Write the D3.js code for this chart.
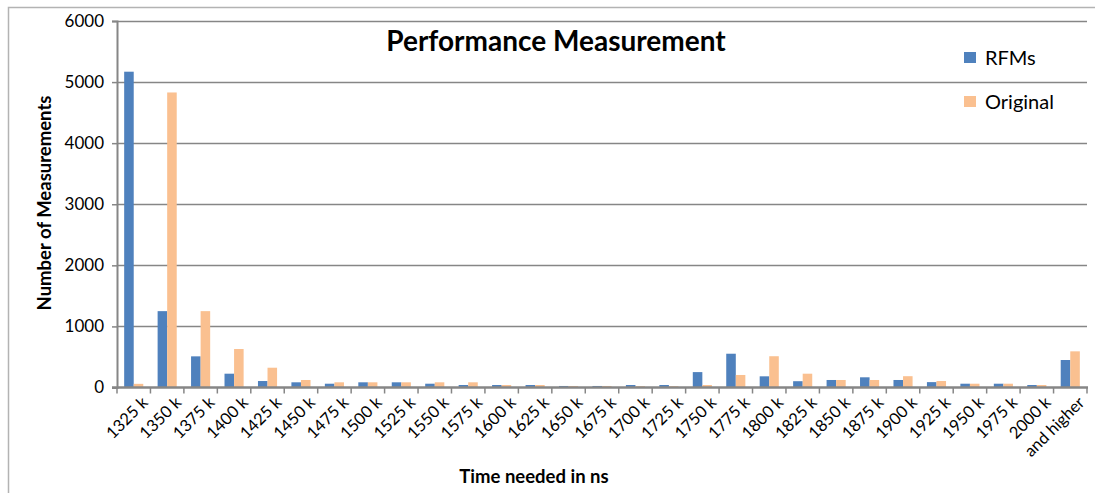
<!DOCTYPE html>
<html>
<head>
<meta charset="utf-8">
<script src="https://cdn.jsdelivr.net/npm/d3@7"></script>
<style>
  body { margin: 0; background: #fff; }
  svg { display: block; font-family: Lato, 'Open Sans', sans-serif; }
</style>
</head>
<body>
<div id="chart"></div>
<script>
const categories = ['1325 k', '1350 k', '1375 k', '1400 k', '1425 k', '1450 k', '1475 k', '1500 k',
  '1525 k', '1550 k', '1575 k', '1600 k', '1625 k', '1650 k', '1675 k', '1700 k', '1725 k',
  '1750 k', '1775 k', '1800 k', '1825 k', '1850 k', '1875 k', '1900 k', '1925 k', '1950 k',
  '1975 k', '2000 k', 'and higher']
const rfms = [5170, 1250, 510, 226, 106, 85, 62, 85, 85, 62, 41, 41, 41, 25, 25, 41, 41,
  252, 553, 183, 103, 123, 167, 123, 88, 62, 62, 41, 450]
const original = [60, 4830, 1250, 630, 324, 123, 85, 85, 85, 85, 85, 41, 41, 25, 25, 22, 22,
  41, 205, 512, 226, 123, 123, 185, 106, 62, 62, 41, 592]
const seriesNames = ['RFMs', 'Original']
const colors = ['#4f81bd', '#fac090']
const yTicks = [0, 1000, 2000, 3000, 4000, 5000, 6000]

const width = 1095
const height = 493
const axisColor = '#868686'

const svg = d3.select('#chart').append('svg')
  .attr('width', width)
  .attr('height', height)

// chart area border (runs off the picture at right and bottom)
svg.append('rect')
  .attr('x', 8.5).attr('y', 7.5)
  .attr('width', 1200).attr('height', 1000)
  .attr('fill', 'none')
  .attr('stroke', '#b3b3b3')
  .attr('stroke-width', 1.5)

const x0 = d3.scaleBand()
  .domain(categories)
  .range([117, 1087])

const x1 = d3.scaleBand()
  .domain(seriesNames)
  .range([0, x0.bandwidth()])
  .paddingOuter(0.75)

const y = d3.scaleLinear()
  .domain([0, 6000])
  .range([387.5, 21])

// gridlines
svg.append('g')
  .selectAll('line')
  .data(yTicks.filter(d => d > 0))
  .enter()
  .append('line')
  .attr('x1', 117).attr('x2', 1087)
  .attr('y1', d => Math.round(y(d)) + 0.5)
  .attr('y2', d => Math.round(y(d)) + 0.5)
  .attr('stroke', axisColor)
  .attr('stroke-width', 1.3)

// bars
const rows = categories.map((c, i) => ({ cat: c, values: [rfms[i], original[i]] }))

svg.append('g')
  .selectAll('g')
  .data(rows)
  .enter()
  .append('g')
  .attr('transform', d => `translate(${x0(d.cat)},0)`)
  .selectAll('rect')
  .data(d => d.values.map((v, j) => ({ name: seriesNames[j], value: v, color: colors[j] })))
  .enter()
  .append('rect')
  .attr('x', d => x1(d.name))
  .attr('width', x1.bandwidth())
  .attr('y', d => y(d.value))
  .attr('height', d => y(0) - y(d.value))
  .attr('fill', d => d.color)

// y axis
const yAxis = svg.append('g')
  .attr('transform', 'translate(117,0)')
  .call(d3.axisLeft(y).tickValues(yTicks).tickSize(5).tickPadding(8).tickFormat(d3.format('d')))
yAxis.select('.domain').attr('stroke', axisColor).attr('stroke-width', 2)
yAxis.selectAll('.tick line').attr('stroke', axisColor).attr('stroke-width', 1.5)
yAxis.selectAll('.tick text')
  .attr('fill', '#000')
  .style('font-size', '17px')
  .style('font-family', 'Lato, sans-serif')

// x axis line and tick marks between categories
const xg = svg.append('g')
xg.append('line')
  .attr('x1', 112).attr('x2', 1088)
  .attr('y1', y(0)).attr('y2', y(0))
  .attr('stroke', axisColor)
  .attr('stroke-width', 2.5)
xg.selectAll('line.tk')
  .data(categories.concat(['end']))
  .enter()
  .append('line')
  .attr('class', 'tk')
  .attr('x1', d => d === 'end' ? x0.range()[1] : x0(d))
  .attr('x2', d => d === 'end' ? x0.range()[1] : x0(d))
  .attr('y1', y(0)).attr('y2', y(0) + 6)
  .attr('stroke', axisColor)
  .attr('stroke-width', 1.5)

xg.selectAll('text')
  .data(categories)
  .enter()
  .append('text')
  .attr('transform', d => `translate(${x0(d) + x0.bandwidth() / 2 + 7},${y(0) + 8}) rotate(-45)`)
  .attr('text-anchor', 'end')
  .attr('dy', '0.7em')
  .style('font-size', '16.5px')
  .text(d => d)

// titles
svg.append('text')
  .attr('x', 556).attr('y', 51)
  .attr('text-anchor', 'middle')
  .style('font-size', '28px')
  .style('font-weight', 'bold')
  .text('Performance Measurement')

svg.append('text')
  .attr('x', 534).attr('y', 483)
  .attr('text-anchor', 'middle')
  .style('font-size', '18.5px')
  .style('font-weight', 'bold')
  .text('Time needed in ns')

svg.append('text')
  .attr('transform', 'translate(51,203) rotate(-90)')
  .attr('text-anchor', 'middle')
  .style('font-size', '18.5px')
  .style('font-weight', 'bold')
  .text('Number of Measurements')

// legend
const legend = svg.append('g')
  .selectAll('g')
  .data(seriesNames)
  .enter()
  .append('g')
  .attr('transform', (d, i) => `translate(964,${52 + i * 44})`)
legend.append('rect')
  .attr('width', 12).attr('height', 11)
  .attr('fill', (d, i) => colors[i])
legend.append('text')
  .attr('x', 21).attr('y', 13)
  .style('font-size', '20px')
  .text(d => d)
</script>
</body>
</html>
